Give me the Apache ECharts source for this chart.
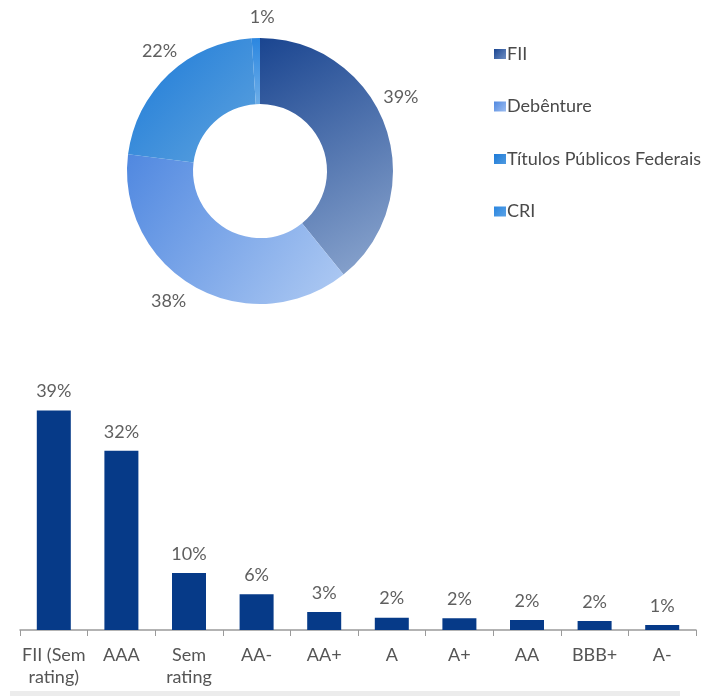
<!DOCTYPE html>
<html><head><meta charset="utf-8">
<script src="https://cdn.jsdelivr.net/npm/echarts@6/dist/echarts.min.js"></script>
<style>html,body{margin:0;padding:0;background:#fff}#c{width:715px;height:697px}</style>
</head><body><div id="c"></div>
<script>
const pieNames = ['FII', 'Debênture', 'Títulos Públicos Federais', 'CRI'];
const pieValues = [39.2, 37.8, 22.0, 1.0];
const barCategories = ['FII (Sem\nrating)', 'AAA', 'Sem\nrating', 'AA-', 'AA+', 'A', 'A+', 'AA', 'BBB+', 'A-'];
const barValues = [39.2, 32.0, 10.2, 6.4, 3.2, 2.2, 2.1, 1.8, 1.6, 0.9];

const G = echarts.graphic.LinearGradient;
const pieColors = [
  new G(0, 0, 1, 1, [{offset: 0, color: '#1a4590'}, {offset: 1, color: '#8ea8d0'}]),
  new G(0, 0, 1, 1, [{offset: 0, color: '#5088e0'}, {offset: 1, color: '#b0cbf3'}]),
  new G(0, 0, 1, 1, [{offset: 0, color: '#1c7ad8'}, {offset: 1, color: '#5fa3de'}]),
  new G(0, 0, 1, 1, [{offset: 0, color: '#2a86e0'}, {offset: 1, color: '#6eaee8'}])
];
const legendIcon = [
  new G(0, 0, 1, 1, [{offset: 0, color: '#1a4590'}, {offset: 1, color: '#6f8fc4'}]),
  new G(0, 0, 1, 1, [{offset: 0, color: '#5088e0'}, {offset: 1, color: '#9dbdf0'}]),
  new G(0, 0, 1, 1, [{offset: 0, color: '#1c7ad8'}, {offset: 1, color: '#4f9ae0'}]),
  new G(0, 0, 1, 1, [{offset: 0, color: '#2a86e0'}, {offset: 1, color: '#5aa2e6'}])
];
const pieLabelOffsets = [[-15, -28], [2, 11], [20, -20], [28, -17]];
const FONT = 'Lato';
const chart = echarts.init(document.getElementById('c'), null, {renderer: 'canvas'});
chart.setOption({
  animation: false,
  textStyle: {fontFamily: FONT},
  legend: {
    orient: 'vertical', left: 489, top: 40, itemGap: 34.5,
    itemWidth: 12, itemHeight: 10, icon: 'rect',
    textStyle: {fontFamily: FONT, fontSize: 18, color: '#4a4a4a', padding: [0, 0, 0, -4]},
    data: pieNames.map((n, i) => ({name: n, itemStyle: {color: legendIcon[i]}}))
  },
  grid: {left: 20, right: 19, top: 378, bottom: 67},
  xAxis: {
    type: 'category', data: barCategories,
    axisLine: {lineStyle: {color: '#9a9a9a', width: 1.5}},
    axisTick: {show: true, length: 6, lineStyle: {color: '#9a9a9a'}},
    axisLabel: {fontFamily: FONT, fontSize: 18, color: '#555555', lineHeight: 22, margin: 14, interval: 0}
  },
  yAxis: {type: 'value', min: 0, max: 45, show: false, splitLine: {show: false}},
  series: [
    {
      type: 'pie', center: [260, 171], radius: [67, 133], startAngle: 90,
      clockwise: true, avoidLabelOverlap: false,
      data: pieNames.map((n, i) => ({name: n, value: pieValues[i], itemStyle: {color: pieColors[i]},
        label: {offset: pieLabelOffsets[i]}})),
      label: {show: true, position: 'outside', formatter: p => Math.round(p.value) + '%',
        fontFamily: FONT, fontSize: 18, color: '#5f5f5f'},
      labelLine: {show: false, length: 4, length2: 4}
    },
    {
      type: 'bar', data: barValues, barWidth: 34,
      itemStyle: {color: '#063a88'},
      label: {show: true, position: 'top', distance: 10, formatter: p => Math.round(p.value) + '%',
        fontFamily: FONT, fontSize: 18, color: '#5f5f5f'}
    }
  ],
  graphic: [{type: 'rect', left: 10, top: 691, shape: {width: 670, height: 5}, style: {fill: '#ececec'}}]
});
</script></body></html>
